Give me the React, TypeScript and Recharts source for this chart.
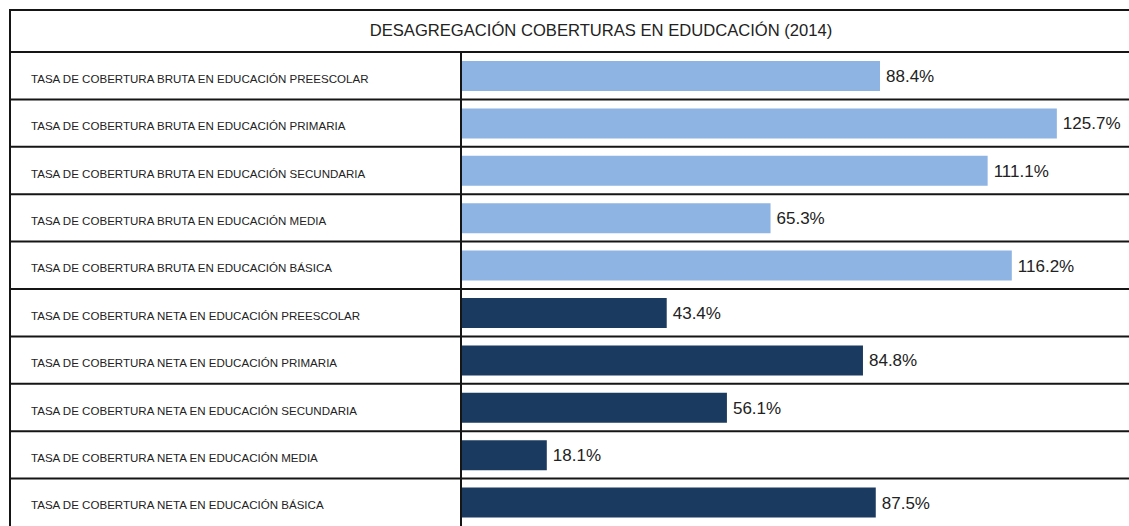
import React from "react";
import { BarChart, Bar, XAxis, YAxis, Cell, LabelList } from "recharts";

const title = "DESAGREGACIÓN COBERTURAS EN EDUDCACIÓN (2014)";

const categories = [
  "TASA DE COBERTURA BRUTA EN EDUCACIÓN PREESCOLAR",
  "TASA DE COBERTURA BRUTA EN EDUCACIÓN PRIMARIA",
  "TASA DE COBERTURA BRUTA EN EDUCACIÓN SECUNDARIA",
  "TASA DE COBERTURA BRUTA EN EDUCACIÓN MEDIA",
  "TASA DE COBERTURA BRUTA EN EDUCACIÓN BÁSICA",
  "TASA DE COBERTURA NETA EN EDUCACIÓN PREESCOLAR",
  "TASA DE COBERTURA NETA EN EDUCACIÓN PRIMARIA",
  "TASA DE COBERTURA NETA EN EDUCACIÓN SECUNDARIA",
  "TASA DE COBERTURA NETA EN EDUCACIÓN MEDIA",
  "TASA DE COBERTURA NETA EN EDUCACIÓN BÁSICA",
];

const values = [88.4, 125.7, 111.1, 65.3, 116.2, 43.4, 84.8, 56.1, 18.1, 87.5];

const groups = ["BRUTA", "BRUTA", "BRUTA", "BRUTA", "BRUTA", "NETA", "NETA", "NETA", "NETA", "NETA"];

const groupColors: Record<string, string> = { BRUTA: "#8EB4E3", NETA: "#1B3A5F" };

const data = categories.map((c, i) => ({ name: c, value: values[i], group: groups[i] }));

const W = 1129;
const H = 526;
const MARGIN = { top: 52, right: 2, bottom: 0, left: 10 };
const BAND = (H - MARGIN.top - MARGIN.bottom) / categories.length;
const LINE = "#151515";

const RowTick = (props: any) => {
  const { y, payload, index } = props;
  const half = BAND / 2;
  return (
    <g>
      {index === 0 && (
        <line x1={10} x2={W} y1={y - half} y2={y - half} stroke={LINE} strokeWidth={2} />
      )}
      {index < categories.length - 1 && (
        <line x1={10} x2={W} y1={y + half} y2={y + half} stroke={LINE} strokeWidth={2} />
      )}
      <text x={31} y={y + 3} dominantBaseline="central" textAnchor="start" fontSize={11.55} fill="#222">
        {payload.value}
      </text>
    </g>
  );
};

export default function App() {
  return (
    <div
      style={{
        position: "absolute",
        left: 0,
        top: 0,
        width: W,
        height: H,
        overflow: "hidden",
        background: "#fff",
        fontFamily: "'Liberation Sans', Arial, sans-serif",
      }}
    >
      <div style={{ position: "absolute", left: 9, top: 9, width: W, height: 2, background: LINE }} />
      <div style={{ position: "absolute", left: 9, top: 9, width: 2, height: H, background: LINE }} />
      <div
        style={{
          position: "absolute",
          left: 11,
          top: 11,
          width: 1180,
          height: 40,
          display: "flex",
          alignItems: "center",
          justifyContent: "center",
          fontSize: 16.6,
          color: "#222",
        }}
      >
        {title}
      </div>
      <div style={{ position: "absolute", left: 0, top: 0 }}>
        <BarChart width={W} height={H} data={data} layout="vertical" margin={MARGIN} barSize={30}>
          <XAxis type="number" domain={[0, 140.5]} hide />
          <YAxis
            type="category"
            dataKey="name"
            width={451}
            interval={0}
            tickLine={false}
            axisLine={{ stroke: LINE, strokeWidth: 2 }}
            tick={<RowTick />}
          />
          <Bar dataKey="value" isAnimationActive={false}>
            {data.map((d, i) => (
              <Cell key={i} fill={groupColors[d.group]} />
            ))}
            <LabelList
              dataKey="value"
              position="right"
              offset={6}
              formatter={(v: any) => `${Number(v).toFixed(1)}%`}
              style={{ fontSize: 17, fill: "#222" }}
            />
          </Bar>
        </BarChart>
      </div>
    </div>
  );
}
